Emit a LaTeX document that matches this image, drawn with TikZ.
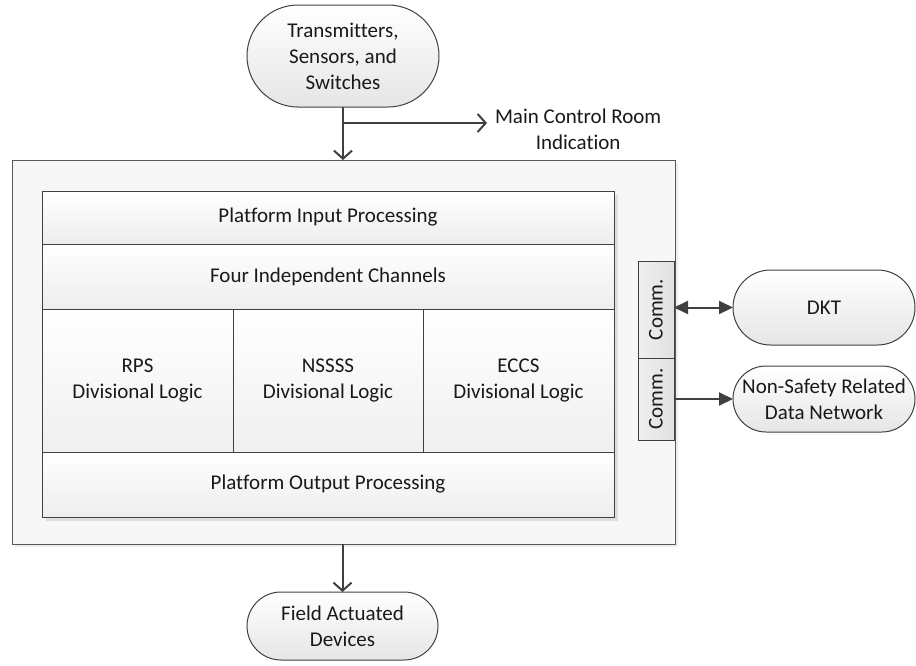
\documentclass[tikz,border=0pt]{standalone}
\usepackage{fontspec}
\setmainfont[Ligatures=NoCommon]{Carlito}
\usetikzlibrary{shapes.misc,arrows.meta}
\definecolor{linec}{HTML}{404040}
\definecolor{boxline}{HTML}{595959}
\begin{document}
\begin{tikzpicture}[x=1pt,y=-1pt,
  every node/.style={inner sep=0pt,outer sep=0pt,font=\fontsize{21}{26}\selectfont,text=black!90,align=center},
  rowbox/.style={draw=linec,line width=1pt,top color=white,bottom color=black!7},
  divbox/.style={draw=linec,line width=1pt,top color=white,bottom color=black!6},
  commbox/.style={draw=linec,line width=0.8pt,left color=black!6,right color=black!12,rotate=90},
  term/.style={rounded rectangle,draw=linec,line width=1pt,top color=white,bottom color=black!10},
  conn/.style={draw=linec,line width=2pt},
  chev/.style={conn,-{Straight Barb[length=8pt,width=18pt,line width=2pt]}},
  tri/.style={conn,-{Triangle[length=14pt,width=13pt]}},
  dtri/.style={conn,{Triangle[length=14pt,width=13pt]}-{Triangle[length=14pt,width=13pt]}}
]
\useasboundingbox (0,0) rectangle (916,665);
% outer box
\fill[black!7] (15,163) rectangle (678,547);
\node[draw=boxline,line width=0.8pt,fill=black!3,minimum width=663pt,minimum height=384pt] (outer) at (343.5,352) {};
% inner block shadow
\fill[black!13] (46,195) rectangle (618,521);
\node[rowbox,minimum width=572pt,minimum height=53pt] (pin) at (328,217.5) {Platform Input Processing};
\node[rowbox,minimum width=572pt,minimum height=65pt] (four) at (328,276.5) {Four Independent Channels};
\node[divbox,minimum width=191pt,minimum height=143pt] (rps) at (137.5,380.5) {RPS\\Divisional Logic};
\node[divbox,minimum width=190pt,minimum height=143pt] (nsss) at (328,380.5) {NSSSS\\Divisional Logic};
\node[divbox,minimum width=191pt,minimum height=143pt] (eccs) at (518.5,380.5) {ECCS\\Divisional Logic};
\node[rowbox,minimum width=572pt,minimum height=65pt] (pout) at (328,484.5) {Platform Output Processing};
% comm boxes
\node[commbox,minimum width=97pt,minimum height=36pt] (comm1) at (656,309.5) {Comm.};
\node[commbox,minimum width=82pt,minimum height=36pt] (comm2) at (656,399) {Comm.};
% terminals
\node[term,minimum width=192pt,minimum height=102pt] (tr) at (343,56) {Transmitters,\\Sensors, and\\Switches};
\node[term,minimum width=191pt,minimum height=68pt] (fad) at (342.5,626) {Field Actuated\\Devices};
\node[term,minimum width=182pt,minimum height=75pt] (dkt) at (824,307.5) {DKT};
\node[term,minimum width=182pt,minimum height=66pt] (nsr) at (824,399) {Non-Safety Related\\Data Network};
\node[anchor=west] (mcr) at (495,129) {Main Control Room\\Indication};
% connectors
\coordinate (br) at (343,123);
\draw[chev] (tr.south) -- (tr.south |- outer.north);
\draw[chev,shorten >=8pt] (br) -- (br -| mcr.west);
\draw[chev] (outer.south -| fad.north) -- (fad.north);
\draw[dtri] (comm1.south |- dkt.west) -- (dkt.west);
\draw[tri] (comm2.south) -- (nsr.west);
\end{tikzpicture}
\end{document}
